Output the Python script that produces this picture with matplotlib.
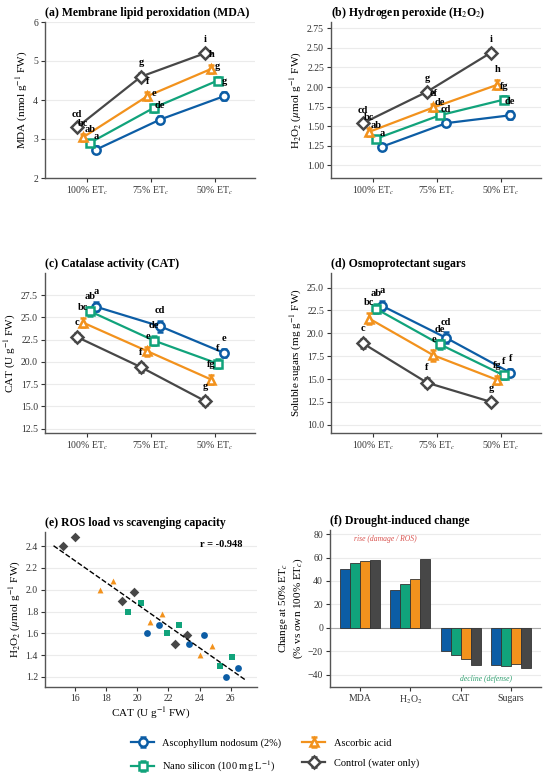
import matplotlib
matplotlib.use("Agg")
import matplotlib.pyplot as plt
import numpy as np

plt.rcParams['font.family'] = ['Liberation Serif', 'DejaVu Serif']
plt.rcParams['mathtext.fontset'] = 'stix'

# ---- data ----
levels = ['100% ET$_c$', '75% ET$_c$', '50% ET$_c$']
treatments = ['Ascophyllum nodosum (2%)', 'Nano silicon (100 mg L$^{-1}$)',
              'Ascorbic acid', 'Control (water only)']
colors = ['#0C5DA5', '#11A37B', '#F2921D', '#474747']
markers = ['o', 's', '^', 'D']
dodge = [0.15, 0.05, -0.05, -0.15]

mda_mean = [[2.73, 3.50, 4.10], [2.90, 3.80, 4.50], [3.05, 4.10, 4.80], [3.30, 4.60, 5.20]]
mda_se = [[0.08, 0.10, 0.11], [0.08, 0.10, 0.09], [0.09, 0.11, 0.10], [0.08, 0.09, 0.08]]
mda_let = [['a', 'de', 'g'], ['ab', 'e', 'g'], ['bc', 'f', 'h'], ['cd', 'g', 'i']]

h2o2_mean = [[1.24, 1.54, 1.64], [1.34, 1.64, 1.84], [1.43, 1.74, 2.03], [1.54, 1.94, 2.44]]
h2o2_se = [[0.04, 0.04, 0.05], [0.04, 0.04, 0.04], [0.05, 0.05, 0.06], [0.03, 0.04, 0.04]]
h2o2_let = [['a', 'cd', 'de'], ['ab', 'de', 'fg'], ['bc', 'ef', 'h'], ['cd', 'g', 'i']]

cat_mean = [[26.2, 24.0, 21.0], [25.7, 22.4, 19.8], [24.4, 21.2, 18.0], [22.8, 19.4, 15.6]]
cat_se = [[0.5, 0.6, 0.5], [0.5, 0.5, 0.5], [0.5, 0.5, 0.5], [0.5, 0.5, 0.5]]
cat_let = [['a', 'cd', 'e'], ['ab', 'de', 'f'], ['bc', 'e', 'fg'], ['c', 'f', 'g']]

sug_mean = [[23.0, 19.5, 15.7], [22.7, 18.8, 15.4], [21.6, 17.6, 14.9], [18.9, 14.6, 12.5]]
sug_se = [[0.5, 0.6, 0.4], [0.5, 0.5, 0.4], [0.6, 0.6, 0.4], [0.5, 0.5, 0.3]]
sug_let = [['a', 'cd', 'f'], ['ab', 'de', 'f'], ['bc', 'e', 'fg'], ['c', 'f', 'g']]

# replicate-level scatter for panel (e)
sc_cat = [[25.7, 26.5, 23.3, 24.3, 20.6, 21.4],
          [25.3, 26.1, 21.9, 22.7, 19.4, 20.2],
          [24.0, 24.8, 20.8, 21.6, 17.6, 18.4],
          [22.4, 23.2, 19.0, 19.8, 15.2, 16.0]]
sc_h2o2 = [[1.20, 1.28, 1.50, 1.58, 1.60, 1.68],
           [1.30, 1.38, 1.60, 1.68, 1.80, 1.88],
           [1.40, 1.48, 1.70, 1.78, 2.00, 2.08],
           [1.50, 1.58, 1.90, 1.98, 2.40, 2.48]]

vars_f = ['MDA', 'H$_2$O$_2$', 'CAT', 'Sugars']

W, H = 550, 773
fig = plt.figure(figsize=(5.5, 7.73), dpi=100)


def box(l, t, r, b):
    return [l / W, 1 - b / H, (r - l) / W, (b - t) / H]


def style(ax):
    for s in ['top', 'right']:
        ax.spines[s].set_visible(False)
    for s in ['left', 'bottom']:
        ax.spines[s].set_color('#555555')
        ax.spines[s].set_linewidth(1.0)
    ax.tick_params(labelsize=7, colors='#333333', length=3, width=0.8, pad=2)
    ax.yaxis.grid(True, color='#ebebeb', lw=0.8)
    ax.set_axisbelow(True)


def line_panel(ax, means, ses, lets, ylim, yticks, ylabel, title, fmt):
    x = np.arange(3)
    span = ylim[1] - ylim[0]
    handles = []
    for i in range(4):
        xs = x + dodge[i]
        h = ax.errorbar(xs, means[i], yerr=ses[i], color=colors[i], marker=markers[i],
                        mfc='white', mec=colors[i], mew=1.8, ms=6, lw=1.6,
                        capsize=2.5, elinewidth=1.2, capthick=1.2, zorder=3 + i)
        handles.append(h)
        for j in range(3):
            ax.text(xs[j], means[i][j] + ses[i][j] + 0.065 * span, lets[i][j],
                    ha='center', va='center', fontsize=7.5, fontweight='bold', zorder=10)
    ax.set_xlim(-0.65, 2.63)
    ax.set_xticks(x)
    ax.set_xticklabels(levels)
    ax.set_ylim(*ylim)
    ax.set_yticks(yticks)
    ax.yaxis.set_major_formatter(plt.FormatStrFormatter(fmt))
    ax.set_ylabel(ylabel, fontsize=8, labelpad=2)
    ax.set_title(title, loc='left', fontsize=8.5, fontweight='bold', pad=4)
    style(ax)
    return handles


ax_a = fig.add_axes(box(45, 22, 255, 178))
handles = line_panel(ax_a, mda_mean, mda_se, mda_let, (2, 6), [2, 3, 4, 5, 6],
                     'MDA (nmol g$^{-1}$ FW)', '(a) Membrane lipid peroxidation (MDA)', '%g')

ax_b = fig.add_axes(box(331, 22, 541, 178))
line_panel(ax_b, h2o2_mean, h2o2_se, h2o2_let, (0.84, 2.83), np.arange(1.0, 2.76, 0.25),
           'H$_2$O$_2$ ($\\mu$mol g$^{-1}$ FW)', '(b) Hydrogen peroxide (H$_2$O$_2$)', '%.2f')

ax_c = fig.add_axes(box(45, 273, 255, 433))
line_panel(ax_c, cat_mean, cat_se, cat_let, (12, 30), np.arange(12.5, 27.6, 2.5),
           'CAT (U g$^{-1}$ FW)', '(c) Catalase activity (CAT)', '%.1f')

ax_d = fig.add_axes(box(331, 273, 541, 433))
line_panel(ax_d, sug_mean, sug_se, sug_let, (9.1, 26.6), np.arange(10, 25.1, 2.5),
           'Soluble sugars (mg g$^{-1}$ FW)', '(d) Osmoprotectant sugars', '%.1f')

# (e) scatter
ax_e = fig.add_axes(box(45, 532, 257, 687))
for i in range(4):
    ax_e.scatter(sc_cat[i], sc_h2o2[i], color=colors[i], marker=markers[i],
                 s=24 if markers[i] != '^' else 18, linewidths=0, zorder=3)
allx = np.concatenate([np.array(v) for v in sc_cat])
ally = np.concatenate([np.array(v) for v in sc_h2o2])
k, b0 = np.polyfit(allx, ally, 1)
xx = np.linspace(allx.min() - 0.6, allx.max() + 0.5, 50)
ax_e.plot(xx, k * xx + b0, ls='--', color='black', lw=1.0, zorder=4)
ax_e.text(0.93, 0.92, 'r = -0.948', transform=ax_e.transAxes, ha='right', va='center',
          fontsize=7.5, fontweight='bold')
ax_e.set_xlim(14.05, 27.7)
ax_e.set_ylim(1.107, 2.53)
ax_e.set_xticks([16, 18, 20, 22, 24, 26])
ax_e.set_yticks(np.arange(1.2, 2.41, 0.2))
ax_e.yaxis.set_major_formatter(plt.FormatStrFormatter('%.1f'))
ax_e.set_xlabel('CAT (U g$^{-1}$ FW)', fontsize=8, labelpad=2)
ax_e.set_ylabel('H$_2$O$_2$ ($\\mu$mol g$^{-1}$ FW)', fontsize=8, labelpad=2)
ax_e.set_title('(e) ROS load vs scavenging capacity', loc='left', fontsize=8.5,
               fontweight='bold', pad=4)
style(ax_e)

# (f) percent change at 50% vs own 100%
ax_f = fig.add_axes(box(330, 530, 541, 687))
panels = [mda_mean, h2o2_mean, cat_mean, sug_mean]
xg = np.arange(4)
for i in range(4):
    pct = [(p[i][2] - p[i][0]) / p[i][0] * 100 for p in panels]
    ax_f.bar(xg + (i - 1.5) * 0.2, pct, width=0.2, color=colors[i],
             edgecolor='#333333', linewidth=0.6, zorder=3)
ax_f.axhline(0, color='#aaaaaa', lw=0.8, zorder=2)
ax_f.text(0.5, 76, 'rise (damage / ROS)', ha='center', va='center', fontsize=5.5,
          style='italic', color='#d9534f')
ax_f.text(2.5, -44, 'decline (defense)', ha='center', va='center', fontsize=5.5,
          style='italic', color='#2e9e6e')
ax_f.set_xlim(-0.6, 3.6)
ax_f.set_ylim(-50.5, 83.5)
ax_f.set_xticks(xg)
ax_f.set_xticklabels(vars_f)
ax_f.set_yticks([-40, -20, 0, 20, 40, 60, 80])
ax_f.set_ylabel('Change at 50% ET$_c$\n(% vs own 100% ET$_c$)', fontsize=8, labelpad=2)
ax_f.set_title('(f) Drought-induced change', loc='left', fontsize=8.5,
               fontweight='bold', pad=4)
style(ax_f)

fig.legend(handles, treatments, loc='lower center', bbox_to_anchor=(0.5, -0.013),
           ncol=2, frameon=False, fontsize=7.5, handlelength=2.2, columnspacing=2.0,
           labelspacing=1.0)

fig.savefig('out.png', dpi=100)
